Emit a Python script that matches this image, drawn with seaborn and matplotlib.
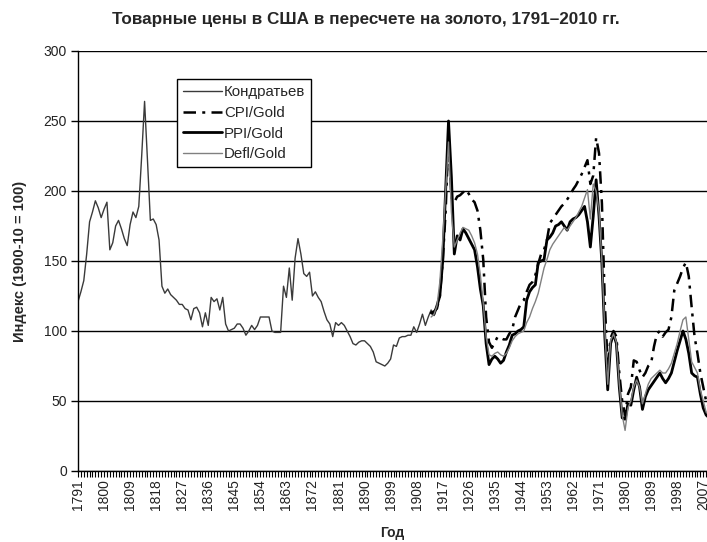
import matplotlib
matplotlib.use('Agg')
from matplotlib import pyplot as plt
from matplotlib.ticker import MultipleLocator, FixedLocator
import seaborn as sns
import pandas as pd

# Kondratiev series 1791-1914
kond_years = list(range(1791, 1915))
kond_vals = [121, 128, 136, 155, 178, 185, 193, 188, 181, 187,
             192, 158, 163, 175, 179, 173, 166, 161, 176, 185,
             181, 189, 225, 264, 222, 179, 180, 176, 165, 132,
             127, 130, 126, 124, 122, 119, 119, 116, 115, 108,
             116, 117, 113, 103, 113, 104, 124, 121, 123, 115,
             124, 105, 100, 101, 102, 105, 105, 102, 97, 100,
             104, 101, 104, 110, 110, 110, 110, 100, 99, 99,
             99, 132, 124, 145, 122, 152, 166, 155, 141, 139,
             142, 125, 128, 124, 121, 114, 108, 105, 96, 106,
             104, 106, 104, 100, 96, 91, 90, 92, 93, 93,
             91, 89, 85, 78, 77, 76, 75, 77, 80, 90,
             89, 95, 96, 96, 97, 97, 103, 99, 105, 112,
             104, 110, 115, 111]

# gold-based series 1913-2009
gold_years = list(range(1913, 2010))
cpi_vals = [113, 114, 116, 125, 150, 185, 240, 195, 192, 196,
            197, 199, 201, 198, 194, 192, 186, 172, 151, 110,
            92, 88, 92, 96, 95, 94, 94, 98, 101, 110,
            115, 120, 122, 128, 133, 135, 140, 148, 155, 158,
            165, 177, 180, 183, 186, 189, 191, 194, 197, 201,
            204, 208, 212, 217, 222, 205, 211, 238, 227, 191,
            120, 75, 95, 100, 96, 70, 50, 40, 55, 60,
            79, 78, 72, 67, 70, 75, 77, 89, 98, 100,
            96, 99, 101, 110, 129, 134, 139, 145, 149, 139,
            117, 96, 84, 70, 60, 50, 45]
ppi_vals = [113, 112, 118, 125, 150, 200, 250, 210, 155, 168,
            165, 173, 170, 166, 162, 158, 146, 130, 118, 91,
            76, 80, 82, 80, 77, 79, 85, 90, 97, 98,
            100, 101, 103, 122, 128, 131, 133, 149, 150, 151,
            165, 167, 170, 175, 176, 178, 175, 172, 178, 180,
            181, 183, 186, 189, 178, 160, 182, 208, 182, 148,
            96, 58, 91, 98, 91, 60, 38, 37, 48, 47,
            58, 67, 60, 44, 53, 58, 61, 64, 67, 70,
            66, 63, 66, 70, 78, 86, 93, 100, 94, 84,
            70, 68, 67, 55, 45, 40, 38]
defl_vals = [110, 112, 118, 135, 165, 200, 235, 185, 160, 165,
             170, 174, 173, 172, 168, 163, 155, 140, 120, 96,
             83, 82, 84, 85, 83, 82, 84, 88, 93, 96,
             98, 99, 100, 106, 110, 116, 121, 127, 136, 145,
             151, 158, 162, 165, 168, 171, 174, 172, 175, 178,
             181, 185, 189, 195, 201, 180, 205, 200, 185, 150,
             100, 62, 93, 98, 92, 62, 40, 29, 45, 50,
             60, 65, 60, 48, 55, 62, 66, 68, 70, 72,
             70, 70, 73, 77, 84, 91, 100, 108, 110, 94,
             78, 74, 70, 58, 50, 42, 40]

x_ticks = list(range(1791, 2010, 9))

sns.set_theme(style='white')
plt.rcParams['font.family'] = ['Liberation Sans', 'DejaVu Sans']

fig = plt.figure(figsize=(7.07, 5.42), dpi=100)
ax = fig.add_axes([78 / 707, 1 - 471 / 542, 1 - 78 / 707, 420 / 542])

kond = pd.DataFrame({'year': kond_years, 'value': kond_vals})
gold = pd.DataFrame({'year': gold_years, 'cpi': cpi_vals, 'ppi': ppi_vals, 'defl': defl_vals})

sns.lineplot(data=kond, x='year', y='value', ax=ax, color='#3a3a3a', lw=1.0, label='Кондратьев')
sns.lineplot(data=gold, x='year', y='cpi', ax=ax, color='black', lw=1.8,
             linestyle=(0, (5, 2.5, 1.2, 2.5)), label='CPI/Gold')
sns.lineplot(data=gold, x='year', y='ppi', ax=ax, color='black', lw=2.0, label='PPI/Gold')
sns.lineplot(data=gold, x='year', y='defl', ax=ax, color='#808080', lw=1.0, label='Defl/Gold')

ax.set_xlim(1791, 2008.3)
ax.set_ylim(0, 300)
ax.set_yticks(range(0, 301, 50))
ax.yaxis.grid(True, color='black', lw=1.0)
ax.set_axisbelow(True)
for s in ['top', 'right']:
    ax.spines[s].set_visible(False)
for s in ['left', 'bottom']:
    ax.spines[s].set_color('black')
    ax.spines[s].set_linewidth(1.0)

ax.xaxis.set_major_locator(FixedLocator(x_ticks))
ax.xaxis.set_minor_locator(MultipleLocator(1))
ax.set_xticklabels([str(y) for y in x_ticks], rotation=90, fontsize=10, color='#222222')
ax.tick_params(axis='x', which='both', bottom=True, length=4, width=0.8, color='black', pad=2)
ax.tick_params(axis='y', left=True, length=5, width=1.0, color='black', labelsize=10,
               labelcolor='#222222', pad=3)

ax.set_xlabel('Год', fontsize=10, fontweight='bold', labelpad=11)
ax.set_ylabel('Индекс (1900-10 = 100)', fontsize=10.5, fontweight='bold', labelpad=12)
fig.suptitle('Товарные цены в США в пересчете на золото, 1791–2010 гг.',
             fontsize=12.3, fontweight='bold', x=0.518, y=0.978)

leg = ax.legend(loc='upper left', bbox_to_anchor=(0.157, 0.933), borderaxespad=0,
                fontsize=10.8, frameon=True, fancybox=False, edgecolor='black',
                handlelength=2.6, handletextpad=0.15, labelspacing=0.45,
                borderpad=0.4, framealpha=1)
leg.get_frame().set_linewidth(1.0)

fig.savefig('out.png', dpi=100)
